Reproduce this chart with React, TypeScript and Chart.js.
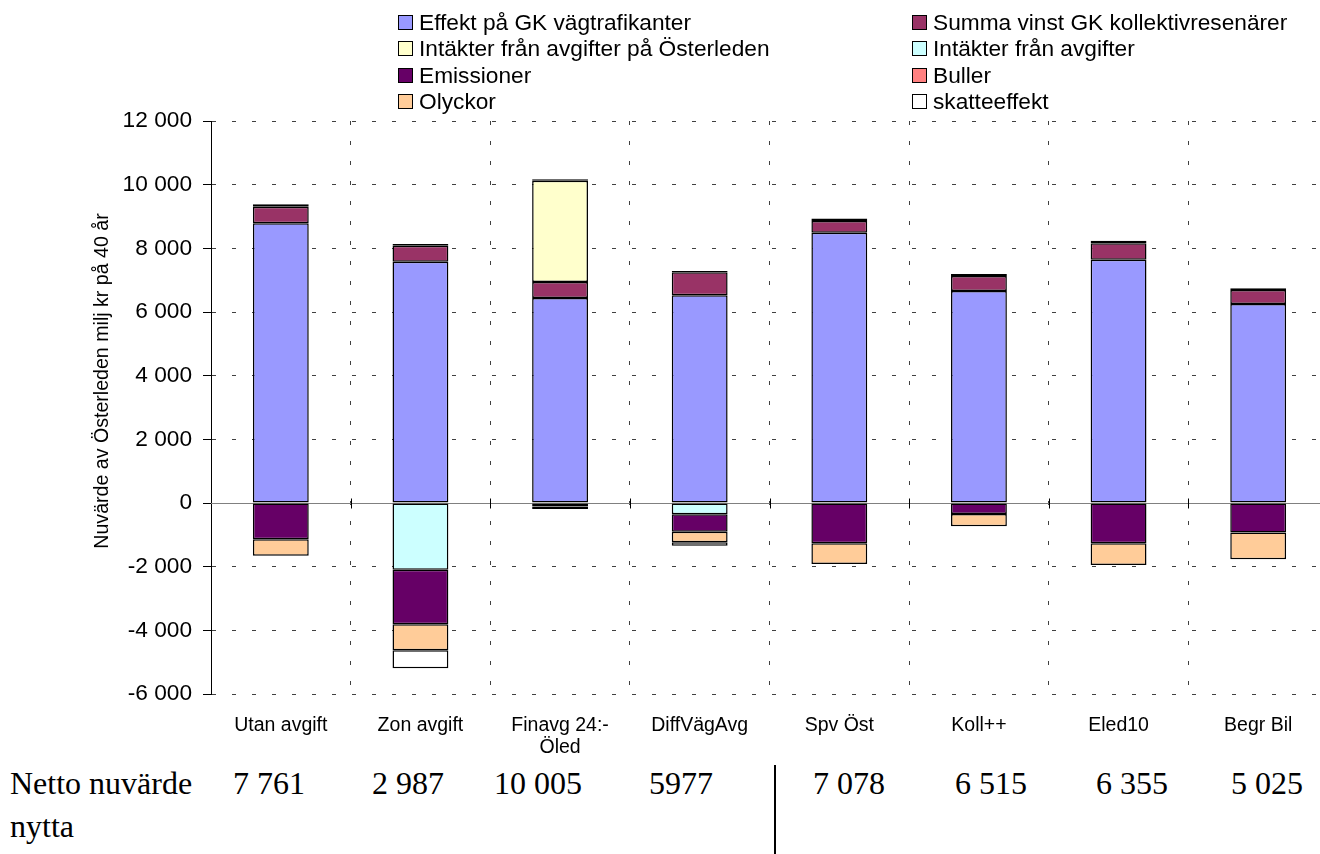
import React, { useEffect, useRef } from "react";
import { Chart, registerables } from "chart.js";

Chart.register(...registerables);

// ---------- data ----------
const categories: (string | string[])[] = [
  "Utan avgift",
  "Zon avgift",
  ["Finavg 24:-", "Öled"],
  "DiffVägAvg",
  "Spv Öst",
  "Koll++",
  "Eled10",
  "Begr Bil",
];

const seriesNames = [
  "Effekt på GK vägtrafikanter",
  "Summa vinst GK kollektivresenärer",
  "Intäkter från avgifter på Österleden",
  "Intäkter från avgifter",
  "Emissioner",
  "Buller",
  "Olyckor",
  "skatteeffekt",
];

const effekt = [8790, 7580, 6440, 6525, 8490, 6660, 7645, 6250];
const summaVinst = [520, 505, 500, 725, 370, 470, 515, 440];
const intakterOsterleden = [null, null, 3180, null, null, null, null, null];
const intakterAvgifter = [null, -2100, null, -355, null, null, null, null];
const emissioner = [-1140, -1705, -110, -545, -1265, -345, -1265, -930];
const buller = [75, 50, 50, 35, 80, 60, 80, 60];
const olyckor = [-515, -820, -80, -335, -650, -385, -680, -840];
const skatteeffekt = [null, -565, null, -105, null, null, null, null];

const nettoLabels = ["7 761", "2 987", "10 005", "5977", "7 078", "6 515", "6 355", "5 025"];

const yTitle = "Nuvärde av Österleden milj kr på 40 år";
const nettoTitle = ["Netto nuvärde", "nytta"];

// ---------- styles ----------
const seriesColors = [
  "#9999FF",
  "#993366",
  "#FFFFCC",
  "#CCFFFF",
  "#660066",
  "#FF8080",
  "#FFCC99",
  "#FFFFFF",
];

const FONT_SANS = "Arial, 'Liberation Sans', Helvetica, sans-serif";
const FONT_SERIF = "'Times New Roman', 'Liberation Serif', Times, serif";

const LEGEND_COL_X = [398, 912];
const LEGEND_ROW_Y = [22, 48, 75, 101];
const NETTO_X = [269, 408, 538, 681, 849, 991, 1132, 1267];

function fmt(v: number | string): string {
  const n = Number(v);
  const s = Math.abs(n)
    .toString()
    .replace(/\B(?=(\d{3})+(?!\d))/g, " ");
  return (n < 0 ? "-" : "") + s;
}

export default function App() {
  const ref = useRef<HTMLCanvasElement>(null);

  useEffect(() => {
    const canvas = ref.current;
    if (!canvas) return;

    const seriesData = [
      effekt,
      summaVinst,
      intakterOsterleden,
      intakterAvgifter,
      emissioner,
      buller,
      olyckor,
      skatteeffekt,
    ];

    const zeroLine = {
      id: "zeroLine",
      beforeDatasetsDraw(chart: any) {
        const { ctx, chartArea, scales } = chart;
        const y = Math.round(scales.y.getPixelForValue(0)) + 0.5;
        ctx.save();
        ctx.setLineDash([]);
        ctx.strokeStyle = "#808080";
        ctx.lineWidth = 1;
        ctx.beginPath();
        ctx.moveTo(chartArea.left, y);
        ctx.lineTo(chartArea.right, y);
        ctx.stroke();
        ctx.strokeStyle = "#000";
        for (let i = 1; i < categories.length; i++) {
          const x =
            Math.round(
              (scales.x.getPixelForValue(i - 1) + scales.x.getPixelForValue(i)) / 2
            ) + 0.5;
          ctx.beginPath();
          ctx.moveTo(x, y - 5);
          ctx.lineTo(x, y + 5);
          ctx.stroke();
        }
        ctx.restore();
      },
    };

    const chart = new Chart(canvas, {
      type: "bar",
      data: {
        labels: categories as any,
        datasets: seriesNames.map((name, i) => ({
          label: name,
          data: seriesData[i] as any,
          backgroundColor: seriesColors[i],
          borderColor: "#000",
          borderWidth: 1.5,
          borderSkipped: false,
          barPercentage: 0.4,
          categoryPercentage: 1,
        })),
      },
      options: {
        animation: false,
        responsive: false,
        layout: { padding: { top: 121, right: 12, bottom: 0, left: 0 } },
        plugins: {
          legend: { display: false },
          tooltip: { enabled: false },
          title: { display: false },
        },
        scales: {
          x: {
            stacked: true,
            grid: {
              display: true,
              color: "#404040",
              lineWidth: 1,
              drawTicks: false,
              offset: true,
            },
            border: { display: false, dash: [4, 16] },
            ticks: {
              color: "#000",
              font: { family: FONT_SANS, size: 19.5, lineHeight: 1.13 },
              padding: 21,
              maxRotation: 0,
              autoSkip: false,
            },
            afterFit: (s: any) => {
              s.height = 66;
            },
          },
          y: {
            stacked: true,
            min: -6000,
            max: 12000,
            ticks: {
              stepSize: 2000,
              color: "#000",
              font: { family: FONT_SANS, size: 22.7 },
              padding: 11,
              callback: (v: any) => fmt(v),
            },
            grid: {
              color: (c: any) =>
                c.tick && c.tick.value === 0 ? "rgba(0,0,0,0)" : "#404040",
              lineWidth: 1,
              drawTicks: true,
              tickLength: 8,
              tickColor: "#000",
              tickBorderDash: [],
            },
            border: { display: true, color: "#000", width: 1, dash: [4, 16] },
            afterFit: (s: any) => {
              s.width = 211;
            },
          },
        },
      } as any,
      plugins: [zeroLine],
    });

    return () => chart.destroy();
  }, []);

  return (
    <div
      style={{
        position: "absolute",
        left: 0,
        top: 0,
        width: 1320,
        height: 854,
        overflow: "hidden",
        background: "#fff",
      }}
    >
      <canvas
        ref={ref}
        width={1340}
        height={760}
        style={{ position: "absolute", left: 0, top: 0 }}
      />

      {seriesNames.map((name, i) => {
        const col = i % 2;
        const row = Math.floor(i / 2);
        const x = LEGEND_COL_X[col];
        const cy = LEGEND_ROW_Y[row];
        return (
          <React.Fragment key={name}>
            <div
              style={{
                position: "absolute",
                left: x,
                top: cy - 7,
                width: 13,
                height: 13,
                border: "1px solid #000",
                background: seriesColors[i],
              }}
            />
            <div
              style={{
                position: "absolute",
                left: x + 21,
                top: cy - 13,
                height: 26,
                lineHeight: "26px",
                fontFamily: FONT_SANS,
                fontSize: 22.7,
                color: "#000",
                whiteSpace: "nowrap",
              }}
            >
              {name}
            </div>
          </React.Fragment>
        );
      })}

      <div
        style={{
          position: "absolute",
          left: 101 - 250,
          top: 381 - 12,
          width: 500,
          height: 24,
          lineHeight: "24px",
          textAlign: "center",
          transform: "rotate(-90deg)",
          fontFamily: FONT_SANS,
          fontSize: 19.6,
          color: "#000",
          whiteSpace: "nowrap",
        }}
      >
        {yTitle}
      </div>

      {nettoTitle.map((t, i) => (
        <div
          key={t}
          style={{
            position: "absolute",
            left: 10,
            top: 783 + i * 43 - 20,
            height: 40,
            lineHeight: "40px",
            fontFamily: FONT_SERIF,
            fontSize: 32,
            color: "#000",
            whiteSpace: "nowrap",
          }}
        >
          {t}
        </div>
      ))}

      {nettoLabels.map((t, i) => (
        <div
          key={i}
          style={{
            position: "absolute",
            left: NETTO_X[i] - 60,
            width: 120,
            top: 783 - 20,
            height: 40,
            lineHeight: "40px",
            textAlign: "center",
            fontFamily: FONT_SERIF,
            fontSize: 32,
            color: "#000",
            whiteSpace: "nowrap",
          }}
        >
          {t}
        </div>
      ))}

      <div
        style={{
          position: "absolute",
          left: 774,
          top: 765,
          width: 2,
          height: 89,
          background: "#000",
        }}
      />
    </div>
  );
}
